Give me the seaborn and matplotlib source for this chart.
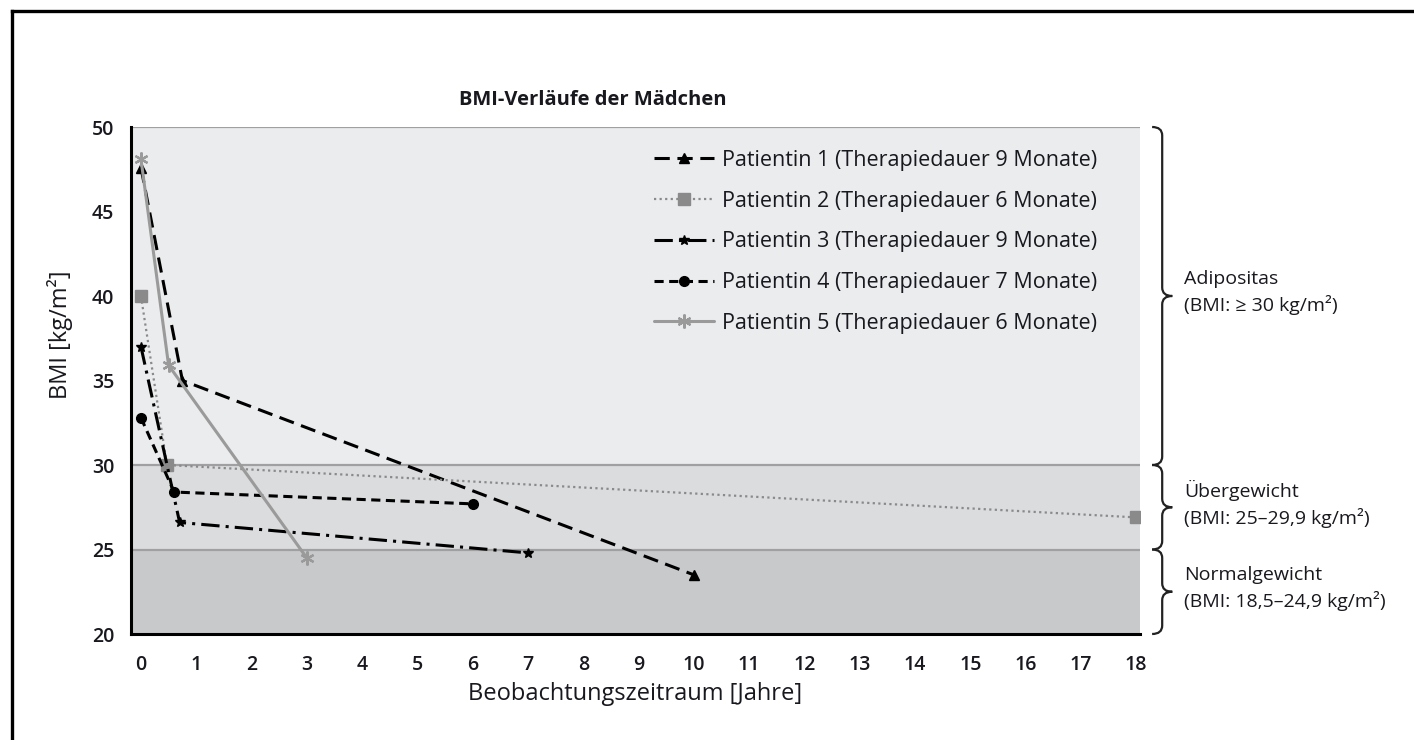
import pandas as pd
import seaborn as sns
import matplotlib.pyplot as plt
import matplotlib.transforms as mtransforms
from matplotlib.path import Path
from matplotlib.patches import PathPatch
from matplotlib.lines import Line2D

# --- data ---
labels = [
    'Patientin 1 (Therapiedauer 9 Monate)',
    'Patientin 2 (Therapiedauer 6 Monate)',
    'Patientin 3 (Therapiedauer 9 Monate)',
    'Patientin 4 (Therapiedauer 7 Monate)',
    'Patientin 5 (Therapiedauer 6 Monate)',
]
years_p1 = [0, 0.75, 10]
bmi_p1 = [47.6, 35.0, 23.5]
years_p2 = [0, 0.47, 18]
bmi_p2 = [40.0, 30.0, 26.9]
years_p3 = [0, 0.7, 7]
bmi_p3 = [37.0, 26.6, 24.8]
years_p4 = [0, 0.6, 6]
bmi_p4 = [32.8, 28.4, 27.7]
years_p5 = [0, 0.5, 3]
bmi_p5 = [48.1, 35.9, 24.5]

x_ticks = list(range(0, 19))
y_ticks = [20, 25, 30, 35, 40, 45, 50]

zones = [(30, 50, 'Adipositas', '(BMI: \u2265 30 kg/m\u00b2)'),
         (25, 30, '\u00dcbergewicht', '(BMI: 25\u201329,9 kg/m\u00b2)'),
         (20, 25, 'Normalgewicht', '(BMI: 18,5\u201324,9 kg/m\u00b2)')]

frames = []
for lab, xs, ys in zip(labels,
                       [years_p1, years_p2, years_p3, years_p4, years_p5],
                       [bmi_p1, bmi_p2, bmi_p3, bmi_p4, bmi_p5]):
    frames.append(pd.DataFrame({'Jahre': xs, 'BMI': ys, 'Patientin': lab}))
df = pd.concat(frames, ignore_index=True)

sns.set_style('white')
plt.rcParams['font.family'] = ['Open Sans', 'DejaVu Sans']
txt = '#18181f'

fig = plt.figure(figsize=(14.14, 7.40), dpi=100)
ax = fig.add_axes([131 / 1414, 1 - 634 / 740, 1009 / 1414, 507 / 740])

# background bands
ax.axhspan(30, 50, color='#ebeced', zorder=0)
ax.axhspan(25, 30, color='#dbdcde', zorder=0)
ax.axhspan(20, 25, color='#c8c9cb', zorder=0)
for yv in [25, 30, 50]:
    ax.axhline(yv, color='#a0a0a2', lw=1.6, zorder=1)

palette = dict(zip(labels, ['black', '#8a8a8a', 'black', 'black', '#9a9a9a']))
markers = dict(zip(labels, ['^', 's', '*', 'o', 'X']))
dashes = dict(zip(labels, [(5, 2.5), (1, 1.5), (6, 2, 1, 2), (3, 1.8), '']))

n_before = len(ax.lines)
sns.lineplot(data=df, x='Jahre', y='BMI', hue='Patientin', style='Patientin',
             palette=palette, markers=markers, dashes=dashes, sort=False,
             estimator=None, lw=2.2, markersize=8, markeredgewidth=1,
             legend=False, ax=ax, zorder=3)
data_lines = ax.lines[n_before:]

sizes = [7, 9, 7, 7, 10]
for line, ms in zip(data_lines, sizes):
    line.set_markersize(ms)
    line.set_markeredgecolor(line.get_color())
data_lines[1].set_linewidth(1.6)
data_lines[4].set_marker((6, 2, 0))
data_lines[4].set_markeredgewidth(1.6)

ax.legend(data_lines, labels, loc='upper left', bbox_to_anchor=(0.510, 0.972),
          borderaxespad=0, frameon=False, fontsize=15.5, handlelength=2.8,
          handletextpad=0.33, labelspacing=0.92, labelcolor=txt)

ax.set_xlim(-0.18, 18.07)
ax.set_ylim(20, 50)
ax.set_xticks(x_ticks)
ax.set_yticks(y_ticks)
ax.tick_params(axis='both', direction='out', length=8, width=2, color='black',
               labelsize=14, labelcolor=txt)
ax.tick_params(axis='x', pad=7)
ax.tick_params(axis='y', pad=4)
for lab in ax.get_xticklabels() + ax.get_yticklabels():
    lab.set_fontweight('semibold')
for s in ['top', 'right']:
    ax.spines[s].set_visible(False)
for s in ['left', 'bottom']:
    ax.spines[s].set_linewidth(2.2)
    ax.spines[s].set_color('black')

ax.set_xlabel('Beobachtungszeitraum [Jahre]', fontsize=17, color=txt, labelpad=5)
ax.set_ylabel('BMI [kg/m\u00b2]', fontsize=17, color=txt)
ax.yaxis.set_label_coords(-0.057, 0.59)

fig.text(593 / 1414, 1 - 100 / 740, 'BMI-Verl\u00e4ufe der M\u00e4dchen',
         ha='center', va='center', fontsize=14.5, fontweight='bold', color=txt)

# curly braces for the BMI zones
trans = mtransforms.blended_transform_factory(ax.transAxes, ax.transData)
x0, x1, x2 = 1.012, 1.022, 1.032
r = 0.5
for lo, hi, name, rng in zones:
    ym = (lo + hi) / 2
    verts = [(x0, hi), (x1, hi), (x1, hi - r), (x1, ym + r), (x1, ym), (x2, ym),
             (x1, ym), (x1, ym - r), (x1, lo + r), (x1, lo), (x0, lo)]
    codes = [Path.MOVETO, Path.CURVE3, Path.CURVE3, Path.LINETO, Path.CURVE3,
             Path.CURVE3, Path.CURVE3, Path.CURVE3, Path.LINETO, Path.CURVE3,
             Path.CURVE3]
    ax.add_patch(PathPatch(Path(verts, codes), transform=trans, fill=False,
                           lw=1.6, edgecolor='#222222', clip_on=False))
    ax.text(1.044, ym + 0.2, name + '\n' + rng, transform=trans, ha='left',
            va='center', fontsize=14, color=txt, linespacing=1.45)

# outer frame: only the left and top edges fall inside the picture
fx, fy = 12 / 1414, 1 - 11 / 740
fig.add_artist(Line2D([fx, fx], [0, fy], transform=fig.transFigure,
                      color='black', lw=2.4, solid_capstyle='projecting'))
fig.add_artist(Line2D([fx, 1], [fy, fy], transform=fig.transFigure,
                      color='black', lw=2.4, solid_capstyle='projecting'))

fig.savefig('out.png', dpi=100)
